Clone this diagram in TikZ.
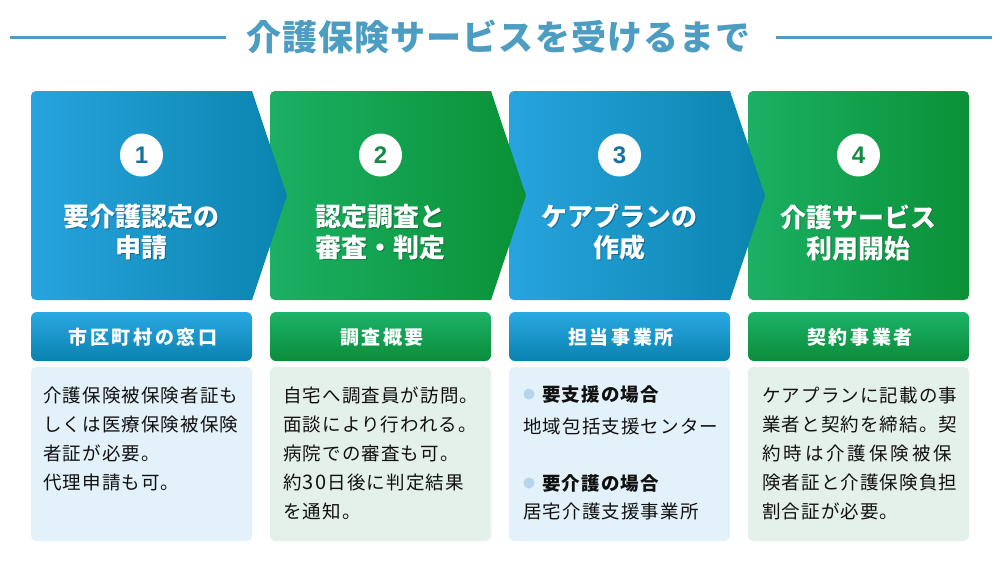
\documentclass[tikz,border=0pt]{standalone}
\usepackage{fontspec}
\setmainfont{Noto Sans CJK JP}
\newfontfamily\jp{Noto Sans CJK JP}
\newfontfamily\jpsp{Noto Sans CJK JP}[LetterSpace=6]
\newfontfamily\jplab{Noto Sans CJK JP}[LetterSpace=14]
\newfontfamily\jptitle{Noto Sans CJK JP}[LetterSpace=3]
\newfontfamily\numfont{Liberation Sans}
\definecolor{titleblue}{HTML}{4C9DC1}
\definecolor{blueL}{HTML}{27A4DE}
\definecolor{blueR}{HTML}{0A84AE}
\definecolor{greenL}{HTML}{1BB064}
\definecolor{greenR}{HTML}{0A9136}
\definecolor{lblueT}{HTML}{29A8E2}
\definecolor{lblueB}{HTML}{0A82B0}
\definecolor{lgreenT}{HTML}{1CB368}
\definecolor{lgreenB}{HTML}{0B8C3A}
\definecolor{bgblue}{HTML}{E3F1FA}
\definecolor{bggreen}{HTML}{E4F1EA}
\definecolor{numblue}{HTML}{17719E}
\definecolor{numgreen}{HTML}{168B45}
\definecolor{bodytext}{HTML}{111111}
\definecolor{bulletc}{HTML}{B5D5EF}
\newcommand\chevshape[3]{%
  \begin{scope}
    \clip[rounded corners=5pt] (#1,91) rectangle (#1+262,300);
    \shade[left color=#2, right color=#3] (#1,91) -- (#1+221,91) -- (#1+256,195.5) -- (#1+221,300) -- (#1,300) -- cycle;
  \end{scope}}
\newcommand\wdig[1]{\makebox[13pt]{\fontsize{20}{22}\selectfont #1}}
\tikzset{
  titletext/.style={text=titleblue, font=\jptitle\bfseries\fontsize{35}{40}\selectfont, inner sep=0pt},
  titleline/.style={draw=titleblue, line width=3pt},
  headtext/.style={text=white, font=\jp\bfseries\fontsize{26}{31}\selectfont, align=center, inner sep=0pt},
  headshadow/.style={text=black, text opacity=0.28, font=\jp\bfseries\fontsize{26}{31}\selectfont, align=center, inner sep=0pt},
  numcircle/.style={circle, fill=white, minimum size=43pt, inner sep=0pt, font=\numfont\bfseries\fontsize{24}{24}\selectfont},
  labtext/.style={text=white, font=\jplab\bfseries\fontsize{19}{22}\selectfont, inner sep=0pt},
  body/.style={text=bodytext, font=\jpsp\fontsize{18.5}{22}\selectfont, inner sep=0pt, anchor=base west},
  bodyb/.style={text=bodytext, font=\jpsp\bfseries\fontsize{18.5}{22}\selectfont, inner sep=0pt, anchor=base west},
  bulletdot/.style={circle, fill=bulletc, minimum size=11pt, inner sep=0pt},
}
\begin{document}
\begin{tikzpicture}[x=1pt,y=-1pt]
\useasboundingbox (0,0) rectangle (1000,563);
\fill[white] (0,0) rectangle (1000,563);

% title
\node[titletext] (title) at (498.5,37) {介護保険サービスを受けるまで};
\coordinate (tl1) at (10,37);
\coordinate (tl2) at (226,37);
\coordinate (tr1) at (776,37);
\coordinate (tr2) at (992,37);
\draw[titleline] (tl1) -- (tl2);
\draw[titleline] (tr1) -- (tr2);

% top panels (drawn right to left so tips overlap)
\shade[left color=greenL, right color=greenR, rounded corners=5pt] (748,91) rectangle (969,300);
\chevshape{509}{blueL}{blueR}
\chevshape{270}{greenL}{greenR}
\chevshape{31}{blueL}{blueR}

% number circles
\node[numcircle, text=numblue] (n1) at (141.5,155) {1};
\node[numcircle, text=numgreen] (n2) at (380.5,155) {2};
\node[numcircle, text=numblue] (n3) at (619.5,155) {3};
\node[numcircle, text=numgreen] (n4) at (858.5,155) {4};

% headings
\node[headshadow] (h1s) at (142.3,233.3) {要介護認定の\\申請};
\node[headtext] (h1) at (141.5,232.5) {要介護認定の\\申請};
\node[headshadow] (h2s) at (381.3,233.3) {認定調査と\\審査・判定};
\node[headtext] (h2) at (380.5,232.5) {認定調査と\\審査・判定};
\node[headshadow] (h3s) at (620.3,233.3) {ケアプランの\\作成};
\node[headtext] (h3) at (619.5,232.5) {ケアプランの\\作成};
\node[headshadow] (h4s) at (859.3,233.3) {介護サービス\\利用開始};
\node[headtext] (h4) at (858.5,232.5) {介護サービス\\利用開始};

% label boxes
\shade[top color=lblueT, bottom color=lblueB, rounded corners=6pt] (31,312) rectangle (252,361);
\shade[top color=lgreenT, bottom color=lgreenB, rounded corners=6pt] (270,312) rectangle (491,361);
\shade[top color=lblueT, bottom color=lblueB, rounded corners=6pt] (509,312) rectangle (730,361);
\shade[top color=lgreenT, bottom color=lgreenB, rounded corners=6pt] (748,312) rectangle (969,361);
\node[labtext] (l1) at (143,337) {市区町村の窓口};
\node[labtext] (l2) at (382,337) {調査概要};
\node[labtext] (l3) at (621,337) {担当事業所};
\node[labtext] (l4) at (860,337) {契約事業者};

% text boxes
\fill[bgblue, rounded corners=5pt] (31,367) rectangle (252,541);
\fill[bggreen, rounded corners=5pt] (270,367) rectangle (491,541);
\fill[bgblue, rounded corners=5pt] (509,367) rectangle (730,541);
\fill[bggreen, rounded corners=5pt] (748,367) rectangle (969,541);

% panel 1 text
\node[body] (a1) at (43,402) {介護保険被保険者証も};
\node[body] (a2) at (43,431) {しくは医療保険被保険};
\node[body] (a3) at (43,460) {者証が必要。};
\node[body] (a4) at (43,489) {代理申請も可。};

% panel 2 text
\node[body] (b1) at (283,402) {自宅へ調査員が訪問。};
\node[body] (b2) at (283,431) {面談により行われる。};
\node[body] (b3) at (283,460) {病院での審査も可。};
\node[body] (b4) at (283,489) {約\wdig{3}\wdig{0}日後に判定結果};
\node[body] (b5) at (283,518) {を通知。};

% panel 3 text
\node[bulletdot] (d1) at (529,394) {};
\node[bodyb] (c1) at (542,401) {要支援の場合};
\node[body] (c2) at (523,433) {地域包括支援センター};
\node[bulletdot] (d2) at (529,483) {};
\node[bodyb] (c3) at (542,490) {要介護の場合};
\node[body] (c4) at (523,518) {居宅介護支援事業所};

% panel 4 text
\node[body] (e1) at (762,402) {ケアプランに記載の事};
\node[body] (e2) at (762,431) {業者と契約を締結。契};
\node[body] (e3) at (762,460) {\makebox[190pt][s]{約\hfill 時\hfill は\hfill 介\hfill 護\hfill 保\hfill 険\hfill 被\hfill 保}};
\node[body] (e4) at (762,489) {険者証と介護保険負担};
\node[body] (e5) at (762,518) {割合証が必要。};
\end{tikzpicture}
\end{document}
